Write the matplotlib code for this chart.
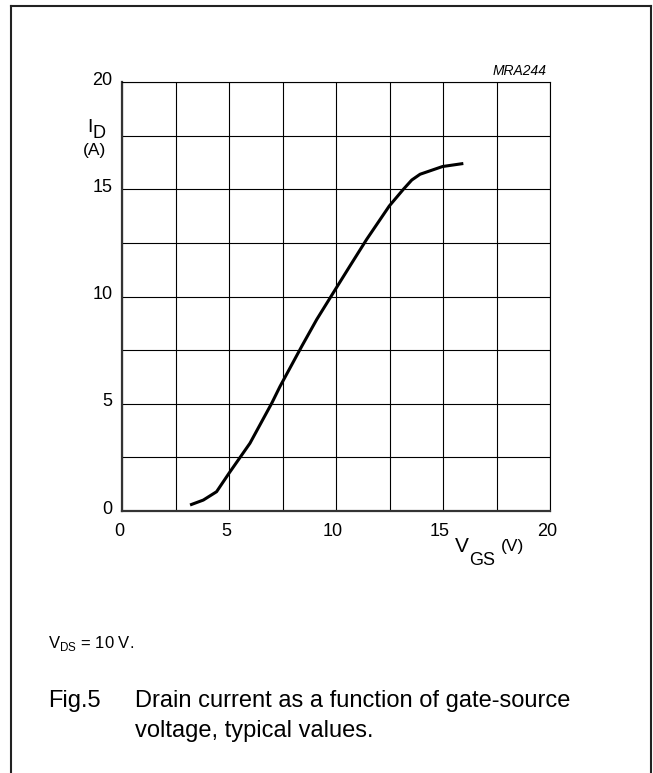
import matplotlib
matplotlib.use('Agg')
import matplotlib.pyplot as plt
import matplotlib.transforms as mtransforms
from matplotlib.lines import Line2D

plt.rcParams['font.family'] = ['Liberation Sans', 'DejaVu Sans']
plt.rcParams['mathtext.fontset'] = 'custom'
plt.rcParams['mathtext.rm'] = 'Liberation Sans'

# values
vgs = [3.18, 3.8, 4.42, 5.0, 5.98, 7.0, 7.38, 8.4, 9.1, 9.87, 10.65,
       11.43, 12.49, 13.15, 13.54, 13.93, 14.98, 15.95]
i_d = [0.28, 0.51, 0.9, 1.76, 3.16, 5.03, 5.8, 7.68, 8.93, 10.17, 11.42,
       12.66, 14.22, 15.0, 15.43, 15.7, 16.06, 16.2]

major_ticks = [0, 5, 10, 15, 20]
minor_ticks = [2.5, 7.5, 12.5, 17.5]

W, H = 653, 773
fig = plt.figure(figsize=(W / 100, H / 100), dpi=100)
ax = fig.add_axes([122 / W, 1 - 511 / H, 428 / W, 429 / H])

ax.plot(vgs, i_d, color='black', lw=2.2, solid_capstyle='butt', solid_joinstyle='round')

ax.set_xlim(0, 20)
ax.set_ylim(0, 20)
ax.set_xticks(major_ticks)
ax.set_yticks(major_ticks)
ax.set_xticks(minor_ticks, minor=True)
ax.set_yticks(minor_ticks, minor=True)
ax.set_xticklabels([str(t) for t in major_ticks])
ax.set_yticklabels([str(t) for t in major_ticks])
ax.grid(which='both', color='black', lw=0.8)
ax.tick_params(which='both', length=0, labelsize=13)
ax.tick_params(axis='x', pad=9)
ax.tick_params(axis='y', pad=7)

for lbl in ax.get_xticklabels():
    lbl.set_transform(lbl.get_transform() +
                      mtransforms.ScaledTranslation(-3 / 100, 0, fig.dpi_scale_trans))
for lbl in ax.get_yticklabels():
    lbl.set_transform(lbl.get_transform() +
                      mtransforms.ScaledTranslation(0, 4 / 100, fig.dpi_scale_trans))

for side in ['left', 'bottom']:
    ax.spines[side].set_linewidth(1.6)
    ax.spines[side].set_color('#333333')
for side in ['top', 'right']:
    ax.spines[side].set_linewidth(0.8)

# texts placed in figure pixel coordinates (y from top)
def px(x, y):
    return x / W, 1 - y / H

fig.text(*px(87, 132), 'I', ha='left', va='baseline', fontsize=14)
fig.text(*px(92, 138), 'D', ha='left', va='baseline', fontsize=13)
fig.text(*px(95, 150), '(A)', ha='center', va='center', fontsize=12.5)
fig.text(*px(547, 71), 'MRA244', ha='right', va='center', fontsize=10, style='italic')
fig.text(*px(455, 552), 'V', ha='left', va='baseline', fontsize=15)
fig.text(*px(469, 565), 'GS', ha='left', va='baseline', fontsize=13)
fig.text(*px(501, 551), '(V)', ha='left', va='baseline', fontsize=12.5)

fig.text(*px(48, 648), r'V$_\mathregular{DS}$ = 10 V.', ha='left', va='baseline', fontsize=12)
fig.text(*px(48, 707), 'Fig.5', ha='left', va='baseline', fontsize=17)
fig.text(*px(135, 707), 'Drain current as a function of gate-source',
         ha='left', va='baseline', fontsize=17)
fig.text(*px(135, 737), 'voltage, typical values.', ha='left', va='baseline', fontsize=17)

# outer frame, open at the bottom
frame_kw = dict(color='#222222', lw=1.5, transform=fig.transFigure)
fig.add_artist(Line2D([11 / W, 11 / W], [0, 1 - 6 / H], **frame_kw))
fig.add_artist(Line2D([11 / W, 651 / W], [1 - 6 / H, 1 - 6 / H], **frame_kw))
fig.add_artist(Line2D([651 / W, 651 / W], [0, 1 - 6 / H], **frame_kw))

plt.savefig('out.png', dpi=100)
